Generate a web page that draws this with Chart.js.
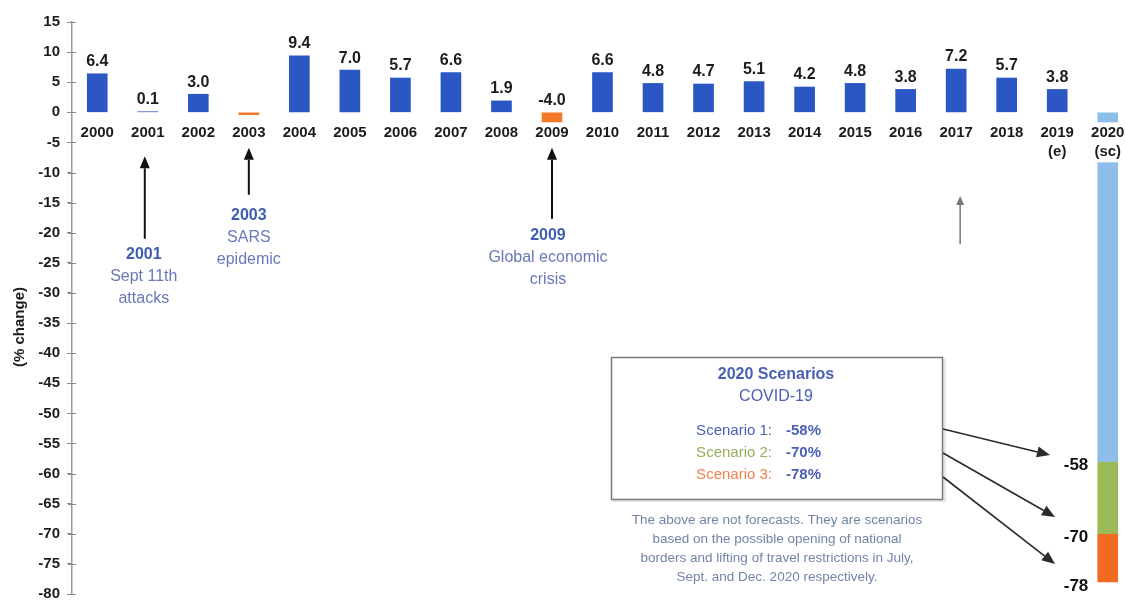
<!DOCTYPE html>
<html>
<head>
<meta charset="utf-8">
<script src="https://cdn.jsdelivr.net/npm/chart.js@4.4.1/dist/chart.umd.min.js"></script>
<style>
  html, body { margin: 0; padding: 0; background: #fff; overflow: hidden; }
  #wrap { width: 1133px; height: 610px; }
</style>
</head>
<body>
<div id="wrap"><canvas id="growthChart"></canvas></div>
<script>
const years = ["2000", "2001", "2002", "2003", "2004", "2005", "2006", "2007", "2008", "2009",
  "2010", "2011", "2012", "2013", "2014", "2015", "2016", "2017", "2018", "2019", "2020"];
const subLabels = { "2019": "(e)", "2020": "(sc)" };
const growth = [6.4, 0.1, 3.0, -0.4, 9.4, 7.0, 5.7, 6.6, 1.9, -4.0,
  6.6, 4.8, 4.7, 5.1, 4.2, 4.8, 3.8, 7.2, 5.7, 3.8, null];
const crisisYears = ["2003", "2009"];
const unlabelledYears = ["2003"];

const scenarioNames = ["Scenario 1:", "Scenario 2:", "Scenario 3:"];
const scenarioTotals = [-58, -70, -78];
const scenarioColors = ["#8dbde9", "#9bbb59", "#f26a1f"];
const scenarioTextColors = ["#4a5fb6", "#98ad5a", "#f0804c"];

const events = [
  { year: "2001", title: "2001", lines: ["Sept 11th", "attacks"], tip: -7.3, tail: -21.0, text: -23.7, arrowDx: -3, dx: -4 },
  { year: "2003", title: "2003", lines: ["SARS", "epidemic"], tip: -5.9, tail: -13.7, text: -17.2, arrowDx: 0, dx: 0 },
  { year: "2009", title: "2009", lines: ["Global economic", "crisis"], tip: -5.9, tail: -17.7, text: -20.5, arrowDx: 0, dx: -4 }
];
const noteLines = [
  "The above are not forecasts. They are scenarios",
  "based on the possible opening of national",
  "borders and lifting of travel restrictions in July,",
  "Sept. and Dec. 2020 respectively."
];

const blue = "#2b57c4";
const orange = "#f47a2a";
const sans = "'Liberation Sans', Arial, sans-serif";
const narrow = "'Liberation Sans Narrow', 'Liberation Sans', Arial, sans-serif";

const lastIndex = years.length - 1;
const scenarioSteps = scenarioTotals.map((t, i) => t - (i ? scenarioTotals[i - 1] : 0));

function arrow(ctx, x1, y1, x2, y2, color, width, headLen, headHalf) {
  const a = Math.atan2(y2 - y1, x2 - x1);
  const bx = x2 - headLen * Math.cos(a), by = y2 - headLen * Math.sin(a);
  ctx.strokeStyle = color;
  ctx.fillStyle = color;
  ctx.lineWidth = width;
  ctx.beginPath();
  ctx.moveTo(x1, y1);
  ctx.lineTo(bx, by);
  ctx.stroke();
  ctx.beginPath();
  ctx.moveTo(x2, y2);
  ctx.lineTo(bx + headHalf * Math.sin(a), by - headHalf * Math.cos(a));
  ctx.lineTo(bx - headHalf * Math.sin(a), by + headHalf * Math.cos(a));
  ctx.closePath();
  ctx.fill();
}

const overlay = {
  id: "overlay",
  afterDatasetsDraw(chart) {
    const ctx = chart.ctx;
    const xs = chart.scales.x, ys = chart.scales.y;
    const zero = ys.getPixelForValue(0);
    ctx.save();
    ctx.textAlign = "center";
    ctx.textBaseline = "middle";

    // small marks crossing the axis line
    ctx.strokeStyle = "#8a8a8a";
    ctx.lineWidth = 1;
    ys.ticks.forEach(t => {
      const py = Math.round(ys.getPixelForValue(t.value)) + 0.5;
      ctx.beginPath();
      ctx.moveTo(ys.right - 4, py);
      ctx.lineTo(ys.right + 4, py);
      ctx.stroke();
    });

    // values above the bars
    ctx.font = "bold 16px " + sans;
    ctx.fillStyle = "#1c1c1c";
    growth.forEach((v, i) => {
      if (v === null || unlabelledYears.includes(years[i])) return;
      ctx.fillText(v.toFixed(1), xs.getPixelForValue(i), ys.getPixelForValue(Math.max(v, 0)) - 12);
    });

    // year labels sitting on the zero line
    ctx.font = "bold 15px " + sans;
    years.forEach((yr, i) => {
      const cx = xs.getPixelForValue(i);
      const lines = subLabels[yr] ? [yr, subLabels[yr]] : [yr];
      ctx.fillStyle = "#fff";
      ctx.fillRect(cx - 20, zero + 10, 40, lines.length * 19 + 2);
      ctx.fillStyle = "#1c1c1c";
      lines.forEach((t, k) => ctx.fillText(t, cx, zero + 21 + k * 19));
    });

    // axis title
    ctx.save();
    ctx.translate(20, 327);
    ctx.rotate(-Math.PI / 2);
    ctx.font = "bold 15px " + sans;
    ctx.fillText("(% change)", 0, 0);
    ctx.restore();

    // event call-outs
    events.forEach(ev => {
      const cx = xs.getPixelForValue(years.indexOf(ev.year));
      const ax = cx + ev.arrowDx;
      arrow(ctx, ax, ys.getPixelForValue(ev.tail), ax, ys.getPixelForValue(ev.tip), "#111", 2, 12, 5);
      const ty = ys.getPixelForValue(ev.text);
      ctx.font = "bold 16px " + sans;
      ctx.fillStyle = "#3d5db5";
      ctx.fillText(ev.title, cx + ev.dx, ty);
      ctx.font = "16px " + sans;
      ctx.fillStyle = "#6a78b8";
      ev.lines.forEach((t, k) => ctx.fillText(t, cx + ev.dx, ty + 22 + k * 22));
    });
    const x17 = xs.getPixelForValue(years.indexOf("2017")) + 4;
    arrow(ctx, x17, ys.getPixelForValue(-21.9), x17, ys.getPixelForValue(-13.9), "#777", 1.5, 9, 4);

    // scenario box
    ctx.fillStyle = "#e6e6e6";
    ctx.fillRect(613, 359, 333, 143);
    ctx.fillStyle = "#fff";
    ctx.fillRect(611, 357, 332, 143);
    ctx.strokeStyle = "#7a7a7a";
    ctx.lineWidth = 1.5;
    ctx.strokeRect(611.5, 357.5, 331, 142);
    ctx.font = "bold 16px " + sans;
    ctx.fillStyle = "#4a5fb6";
    ctx.fillText("2020 Scenarios", 776, 375);
    ctx.font = "16px " + sans;
    ctx.fillText("COVID-19", 776, 397);
    scenarioNames.forEach((name, i) => {
      const ly = 431 + i * 22;
      ctx.textAlign = "right";
      ctx.font = "15px " + sans;
      ctx.fillStyle = scenarioTextColors[i];
      ctx.fillText(name, 772, ly);
      ctx.textAlign = "left";
      ctx.font = "bold 15px " + sans;
      ctx.fillStyle = "#4a5fb6";
      ctx.fillText(scenarioTotals[i] + "%", 786, ly);
    });
    ctx.textAlign = "center";
    ctx.font = "13.5px " + sans;
    ctx.fillStyle = "#7383a8";
    noteLines.forEach((t, k) => ctx.fillText(t, 777, 520 + k * 19));

    // arrows from the box to the 2020 bar, plus totals
    const tips = [[1050, 455], [1055, 517], [1055, 564]];
    const starts = [[943, 429], [943, 453], [943, 477]];
    ctx.font = "bold 17px " + narrow;
    scenarioTotals.forEach((t, i) => {
      arrow(ctx, starts[i][0], starts[i][1], tips[i][0], tips[i][1], "#2a2a2a", 1.6, 13, 5.5);
      ctx.fillStyle = "#111";
      ctx.fillText(String(t), 1076, ys.getPixelForValue(t) + 4);
    });
    ctx.restore();
  }
};

const scenarioSets = scenarioSteps.map((step, i) => ({
  label: scenarioNames[i],
  data: years.map((_, k) => (k === lastIndex ? step : null)),
  backgroundColor: scenarioColors[i],
  barThickness: 20
}));

new Chart(document.getElementById("growthChart"), {
  type: "bar",
  data: {
    labels: years,
    datasets: [{
      label: "% change",
      data: growth,
      backgroundColor: years.map(y => crisisYears.includes(y) ? orange : blue),
      barThickness: 20
    }, ...scenarioSets]
  },
  options: {
    responsive: true,
    maintainAspectRatio: false,
    animation: false,
    layout: { padding: { top: 22, bottom: 0, left: 0, right: 0 } },
    plugins: {
      legend: { display: false },
      tooltip: { enabled: false }
    },
    scales: {
      x: { stacked: true, display: false },
      y: {
        stacked: true,
        min: -80,
        max: 15,
        afterFit(scale) { scale.width = 72; },
        ticks: {
          stepSize: 5,
          padding: 7,
          color: "#1c1c1c",
          font: { family: narrow, size: 15, weight: "bold" }
        },
        grid: { drawOnChartArea: false, tickLength: 5, color: "#8a8a8a" },
        border: { color: "#9a9a9a", width: 1.5 }
      }
    }
  },
  plugins: [overlay]
});
</script>
</body>
</html>
